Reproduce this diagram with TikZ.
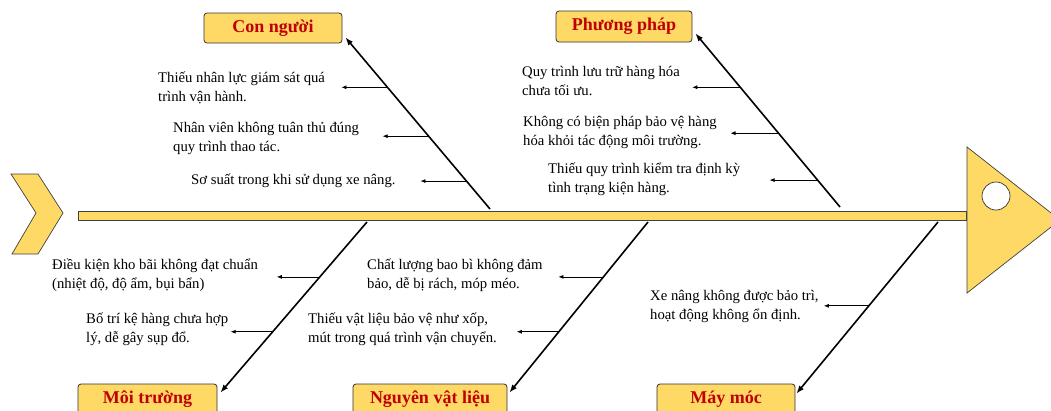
\documentclass[tikz,border=0pt]{standalone}
\usepackage{fontspec}
\setmainfont{Liberation Serif}
\usetikzlibrary{calc,arrows.meta}
\definecolor{fishy}{HTML}{FFD966}
\definecolor{titred}{HTML}{C00000}
\begin{document}
\begin{tikzpicture}[x=1pt,y=-1pt,
  fishbody/.style={fill=fishy,draw=black!75,line width=0.7pt,line join=miter},
  catbox/.style={draw=black!80,fill=fishy,rounded corners=3pt,line width=0.8pt,
    font=\fontsize{18}{20}\selectfont\bfseries,text=titred,inner sep=0pt},
  bone/.style={draw=black,line width=1.6pt,-{Latex[length=8pt,width=6pt]}},
  subarr/.style={draw=black,line width=0.7pt,-{Latex[length=5pt,width=4pt]}},
  cause/.style={anchor=west,align=left,inner sep=0pt,font=\fontsize{14.7}{19}\selectfont}]
\useasboundingbox (0,0) rectangle (1051,410);
\clip (0,0) rectangle (1051,410);
% tail, spine, head
\filldraw[fishbody] (11,174) -- (38,174) -- (63,213) -- (38,254) -- (12,254) -- (36,213) -- cycle;
\filldraw[fishbody] (78,211) rectangle (966,220);
\filldraw[fishbody] (967,147) -- (1060,220) -- (967,293) -- cycle;
\filldraw[fill=white,draw=black!80,line width=0.7pt] (996,196) circle[radius=14pt];
% category boxes
\node[catbox,minimum width=138pt,minimum height=30pt] (cn) at (273,28) {Con người};
\node[catbox,minimum width=136pt,minimum height=31pt] (pp) at (624,26.5) {Phương pháp};
\node[catbox,minimum width=139pt,minimum height=30pt] (mt) at (147.5,399) {Môi trường};
\node[catbox,minimum width=154pt,minimum height=30pt] (nvl) at (430,399) {Nguyên vật liệu};
\node[catbox,minimum width=138pt,minimum height=30pt] (mm) at (726,399) {Máy móc};
% bone ends
\coordinate (cnb) at (490,209);
\coordinate (cnt) at ($(cn.south east)+(3,-6)$);
\coordinate (ppb) at (840,207);
\coordinate (ppt) at ($(pp.south east)+(3,-9)$);
\coordinate (mtb) at (367,222);
\coordinate (mtt) at ($(mt.north east)+(3,9)$);
\coordinate (nvlb) at (648,222);
\coordinate (nvlt) at ($(nvl.north east)+(2,9)$);
\coordinate (mmb) at (938,222);
\coordinate (mmt) at ($(mm.north east)+(1,10)$);
\draw[bone] (cnb) -- (cnt);
\draw[bone] (ppb) -- (ppt);
\draw[bone] (mtb) -- (mtt);
\draw[bone] (nvlb) -- (nvlt);
\draw[bone] (mmb) -- (mmt);
% sub arrows
\draw[subarr] ($(cnb)!{(209-87)/(209-37)}!(cnt)$) -- ++(-46,0);
\draw[subarr] ($(cnb)!{(209-136)/(209-37)}!(cnt)$) -- ++(-46,0);
\draw[subarr] ($(cnb)!{(209-181)/(209-37)}!(cnt)$) -- ++(-46,0);
\draw[subarr] ($(ppb)!{(207-87)/(207-33)}!(ppt)$) -- ++(-48,0);
\draw[subarr] ($(ppb)!{(207-133)/(207-33)}!(ppt)$) -- ++(-48,0);
\draw[subarr] ($(ppb)!{(207-180)/(207-33)}!(ppt)$) -- ++(-48,0);
\draw[subarr] ($(mtb)!{(277-222)/(393-222)}!(mtt)$) -- ++(-43,0);
\draw[subarr] ($(mtb)!{(332-222)/(393-222)}!(mtt)$) -- ++(-42,0);
\draw[subarr] ($(nvlb)!{(277-222)/(393-222)}!(nvlt)$) -- ++(-45,0);
\draw[subarr] ($(nvlb)!{(332-222)/(393-222)}!(nvlt)$) -- ++(-42,0);
\draw[subarr] ($(mmb)!{(306-222)/(394-222)}!(mmt)$) -- ++(-45,0);
% cause texts
\node[cause] (c1) at (158,88) {Thiếu nhân lực giám sát quá\\trình vận hành.};
\node[cause] (c2) at (173,138) {Nhân viên không tuân thủ đúng\\quy trình thao tác.};
\node[cause] (c3) at (191,181) {Sơ suất trong khi sử dụng xe nâng.};
\node[cause] (p1) at (522,81) {Quy trình lưu trữ hàng hóa\\chưa tối ưu.};
\node[cause] (p2) at (523,132) {Không có biện pháp bảo vệ hàng\\hóa khỏi tác động môi trường.};
\node[cause] (p3) at (548,179.5) {Thiếu quy trình kiểm tra định kỳ\\tình trạng kiện hàng.};
\node[cause] (e1) at (52,275) {Điều kiện kho bãi không đạt chuẩn\\(nhiệt độ, độ ẩm, bụi bẩn)};
\node[cause] (e2) at (86,329) {Bố trí kệ hàng chưa hợp\\lý, dễ gây sụp đổ.};
\node[cause] (v1) at (367,275) {Chất lượng bao bì không đảm\\bảo, dễ bị rách, móp méo.};
\node[cause] (v2) at (308,329) {Thiếu vật liệu bảo vệ như xốp,\\mút trong quá trình vận chuyển.};
\node[cause] (m1) at (650,306) {Xe nâng không được bảo trì,\\hoạt động không ổn định.};
\end{tikzpicture}
\end{document}
